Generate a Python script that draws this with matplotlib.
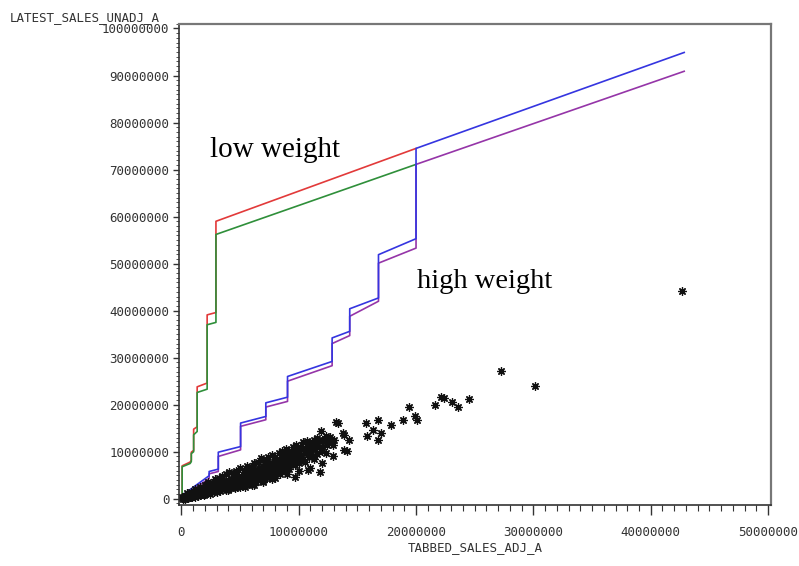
import numpy as np
import matplotlib
matplotlib.use("Agg")
import matplotlib.pyplot as plt
from matplotlib.ticker import MultipleLocator, FuncFormatter

# values in millions
red_x = [0, 0.07, 0.07, 0.75, 0.85, 0.85, 1.05, 1.05, 1.35, 1.35, 2.2, 2.2, 2.95, 2.95, 20.0]
red_y = [0.3, 0.3, 7.0, 7.8, 8.2, 9.9, 10.3, 14.8, 15.3, 23.8, 24.6, 39.1, 39.6, 59.0, 74.5]
green_x = [0, 0.07, 0.07, 0.75, 0.85, 0.85, 1.05, 1.05, 1.35, 1.35, 2.2, 2.2, 2.95, 2.95, 20.0]
green_y = [0.3, 0.3, 6.8, 7.5, 7.9, 9.6, 10.0, 13.6, 14.3, 22.6, 23.3, 37.0, 37.5, 56.2, 71.1]

blue_x = [0, 2.37, 2.37, 3.15, 3.15, 5.05, 5.05, 7.2, 7.2, 9.05, 9.05, 12.85, 12.85,
          14.35, 14.35, 16.8, 16.8, 20.0, 20.0, 42.85]
blue_y = [0.6, 4.9, 5.8, 6.3, 9.9, 11.1, 16.1, 17.5, 20.4, 21.6, 26.0, 29.2, 34.2,
          35.6, 40.4, 42.7, 51.9, 55.3, 74.5, 94.9]
purple_x = [0, 2.37, 2.37, 3.15, 3.15, 5.05, 5.05, 7.2, 7.2, 9.05, 9.05, 12.85, 12.85,
            14.35, 14.35, 16.8, 16.8, 20.0, 20.0, 42.85]
purple_y = [0.3, 4.3, 5.3, 5.8, 9.0, 10.4, 15.4, 16.8, 19.5, 20.7, 25.0, 28.3, 33.0,
            34.7, 38.8, 42.0, 50.1, 53.3, 71.1, 90.9]

# scatter points (TABBED_SALES_ADJ_A, LATEST_SALES_UNADJ_A), millions
pts_x = [0.05, 0.1, 0.15, 0.2, 0.25, 0.3, 0.35, 0.4, 0.45, 0.5, 0.55, 0.6, 0.65, 0.7, 0.75, 0.8, 0.85, 0.9, 0.95, 1.0,
         1.05, 1.1, 1.15, 1.2, 1.3, 1.35, 1.4, 1.5, 1.55, 1.6, 1.7, 1.75, 1.8, 1.9, 1.95,
         2.0, 2.1, 2.15, 2.2, 2.3, 2.4, 2.45, 2.5, 2.6, 2.7, 2.75, 2.8, 2.9, 2.95,
         3.0, 3.1, 3.2, 3.25, 3.35, 3.4, 3.5, 3.6, 3.65, 3.75, 3.8, 3.9, 3.95,
         4.0, 4.1, 4.2, 4.25, 4.35, 4.45, 4.5, 4.6, 4.7, 4.75, 4.85, 4.9, 4.95,
         5.0, 5.1, 5.2, 5.3, 5.35, 5.45, 5.5, 5.6, 5.7, 5.75, 5.85, 5.9, 5.95,
         6.0, 6.1, 6.2, 6.3, 6.35, 6.45, 6.5, 6.6, 6.7, 6.8, 6.85, 6.95,
         7.0, 7.1, 7.2, 7.3, 7.35, 7.45, 7.55, 7.6, 7.7, 7.8, 7.9, 7.95,
         8.0, 8.1, 8.2, 8.3, 8.4, 8.45, 8.55, 8.6, 8.7, 8.8, 8.9, 8.95,
         9.0, 9.1, 9.2, 9.3, 9.4, 9.5, 9.6, 9.66, 9.7, 9.8, 9.9, 9.95,
         10.05, 10.2, 10.3, 10.4, 10.5, 10.6, 10.7, 10.8, 10.85, 10.95,
         11.05, 11.2, 11.3, 11.4, 11.5, 11.6, 11.7, 11.85, 11.9, 11.95,
         12.1, 12.3, 12.4, 12.6, 12.9, 12.9, 13.2, 13.35, 13.8, 13.9, 14.1, 14.3, 13.9,
         15.7, 16.75, 16.3, 17.0, 15.8, 16.8, 17.9, 18.9, 19.4, 19.9, 20.1,
         21.6, 22.1, 22.4, 23.1, 23.6, 24.5, 27.25, 30.1, 42.7,
         0.3, 0.6, 0.9, 1.2, 1.6, 2.0, 2.6, 3.3, 4.0, 4.6, 5.4, 6.2, 7.0, 7.7,
         0.5, 0.8, 1.2, 1.6, 2.0, 2.3, 2.6, 2.9, 3.2, 3.5, 3.8, 4.1, 4.4, 4.7,
         5.0, 5.3, 5.6, 5.9, 6.2, 6.5, 6.8, 7.1, 7.4, 7.7, 8.0, 8.3, 8.6, 8.9,
         9.2, 9.5, 9.8, 10.1, 10.4, 10.7, 11.0, 11.3, 11.6, 12.0, 12.3, 12.7, 13.0,
         5.5, 6.0, 6.5, 7.0, 7.5, 8.0, 8.5, 9.0, 9.5, 10.0, 10.5, 11.0, 11.5, 12.0, 12.5,
         3.0, 4.0, 5.0, 6.0, 7.0, 8.0, 9.0, 10.0, 11.0, 12.0]
pts_y = [0.1, 0.3, 0.05, 0.2, 0.4, 0.1, 0.5, 0.3, 0.2, 0.6, 0.4, 0.1, 0.7, 0.5, 0.3, 0.9, 0.6, 0.4, 0.8, 1.1,
         0.5, 0.9, 1.3, 0.7, 1.0, 1.5, 0.6, 1.2, 1.7, 0.9, 1.4, 1.9, 1.1, 1.6, 0.8,
         2.0, 1.3, 1.8, 2.4, 1.5, 2.1, 1.0, 2.6, 1.7, 2.3, 3.0, 1.4, 2.0, 2.7,
         2.4, 3.2, 1.8, 2.8, 3.5, 2.2, 2.9, 3.8, 2.5, 3.3, 1.9, 3.0, 3.9,
         2.7, 3.5, 4.3, 2.3, 3.1, 3.9, 2.8, 4.5, 3.4, 2.6, 4.1, 3.6, 4.9,
         3.0, 4.3, 3.7, 5.1, 3.3, 4.6, 2.9, 4.0, 5.4, 3.6, 4.8, 4.2, 5.9,
         3.9, 5.0, 4.4, 6.1, 3.5, 5.3, 4.7, 6.4, 4.0, 5.6, 4.9, 6.8,
         5.2, 4.4, 6.0, 7.2, 5.5, 4.7, 6.4, 5.8, 7.5, 5.1, 6.7, 6.1,
         7.9, 5.6, 7.0, 6.3, 8.3, 5.3, 7.4, 6.7, 8.8, 6.0, 7.7, 9.2,
         7.0, 8.2, 6.4, 9.5, 7.6, 8.6, 10.0, 4.7, 7.2, 9.0, 8.0, 10.4,
         7.6, 9.4, 8.5, 10.8, 7.9, 9.8, 11.2, 6.2, 8.8, 10.3,
         9.2, 11.6, 8.4, 10.6, 12.0, 9.6, 11.0, 5.6, 14.5, 10.2,
         12.4, 9.8, 11.4, 12.8, 11.5, 9.0, 16.4, 16.2, 14.0, 13.6, 10.1, 12.4, 10.4,
         16.2, 16.7, 14.7, 14.0, 13.3, 12.6, 15.7, 16.7, 19.5, 17.6, 16.7,
         19.9, 21.7, 21.4, 20.5, 19.5, 21.2, 27.2, 23.9, 44.1,
         0.0, 0.2, 0.5, 0.3, 0.7, 1.1, 1.4, 1.6, 2.0, 2.3, 2.6, 3.0, 3.8, 4.2,
         1.2, 1.5, 2.0, 2.6, 3.0, 3.6, 3.4, 4.2, 4.4, 4.9, 5.2, 5.6, 5.3, 6.0,
         6.5, 6.2, 7.0, 6.8, 7.5, 7.9, 8.6, 8.1, 8.9, 9.3, 8.8, 9.8, 10.2, 10.6,
         10.0, 11.1, 11.5, 10.9, 12.0, 12.3, 11.8, 12.6, 13.0, 12.2, 13.4, 13.1, 12.5,
         5.0, 5.8, 6.2, 6.9, 7.3, 7.1, 8.0, 8.8, 9.3, 9.6, 10.2, 10.5, 11.3, 11.0, 12.0,
         1.5, 1.9, 2.4, 3.0, 3.6, 4.4, 5.2, 5.8, 6.6, 7.6]

x_ticks = [0, 10000000, 20000000, 30000000, 40000000, 50000000]
y_ticks = [0, 10000000, 20000000, 30000000, 40000000, 50000000,
           60000000, 70000000, 80000000, 90000000, 100000000]

M = 1e6
fig = plt.figure(figsize=(7.99, 5.66), dpi=100)
ax = fig.add_axes([0.224, 0.108, 0.741, 0.85])

# step lines
ax.plot(np.array(red_x) * M, np.array(red_y) * M, color="#e23a3a", lw=1.2)
ax.plot(np.array(green_x) * M, np.array(green_y) * M, color="#2f8f3a", lw=1.2)
ax.plot(np.array(purple_x) * M, np.array(purple_y) * M, color="#9535a8", lw=1.2)
ax.plot(np.array(blue_x) * M, np.array(blue_y) * M, color="#3535e0", lw=1.2)

# points
ax.plot(np.array(pts_x) * M, np.array(pts_y) * M, linestyle="none",
        marker=(8, 2, 0), markersize=6, mew=0.9, color="#111111")

ax.text(2.43 * M, 72.6 * M, "low weight", family="Liberation Serif", fontsize=21,
        va="baseline", ha="left")
ax.text(20.1 * M, 44.9 * M, "high weight", family="Liberation Serif", fontsize=20.5,
        va="baseline", ha="left")

ax.set_xlim(-0.2 * M, 50.25 * M)
ax.set_ylim(-1.3 * M, 101 * M)
ax.set_xticks(x_ticks)
ax.set_yticks(y_ticks)
ax.xaxis.set_minor_locator(MultipleLocator(1 * M))
ax.yaxis.set_minor_locator(MultipleLocator(1 * M))
fmt = FuncFormatter(lambda v, p: "%d" % v)
ax.xaxis.set_major_formatter(fmt)
ax.yaxis.set_major_formatter(fmt)

tick_font = dict(family="DejaVu Sans Mono", size=9)
for lab in ax.get_xticklabels() + ax.get_yticklabels():
    lab.set_fontfamily("DejaVu Sans Mono")
    lab.set_fontsize(9)
    lab.set_color("#333333")
ax.tick_params(axis="x", which="major", length=7, width=1, color="#333333", pad=8)
ax.tick_params(axis="x", which="minor", length=4, width=0.8, color="#333333")
ax.tick_params(axis="y", which="major", length=4, width=1, color="#333333", pad=3)
ax.tick_params(axis="y", which="minor", length=2, width=0.6, color="#333333")

for side in ["left", "bottom"]:
    ax.spines[side].set_color("#333333")
    ax.spines[side].set_linewidth(1.2)
for side in ["top", "right"]:
    ax.spines[side].set_color("#777777")
    ax.spines[side].set_linewidth(1.6)

fig.text(10 / 799, 1 - 18 / 566, "LATEST_SALES_UNADJ_A", fontdict=tick_font,
         color="#333333", ha="left", va="center")
fig.text(475 / 799, 1 - 548 / 566, "TABBED_SALES_ADJ_A", fontdict=tick_font,
         color="#333333", ha="center", va="center")

fig.savefig("out.png", dpi=100)
